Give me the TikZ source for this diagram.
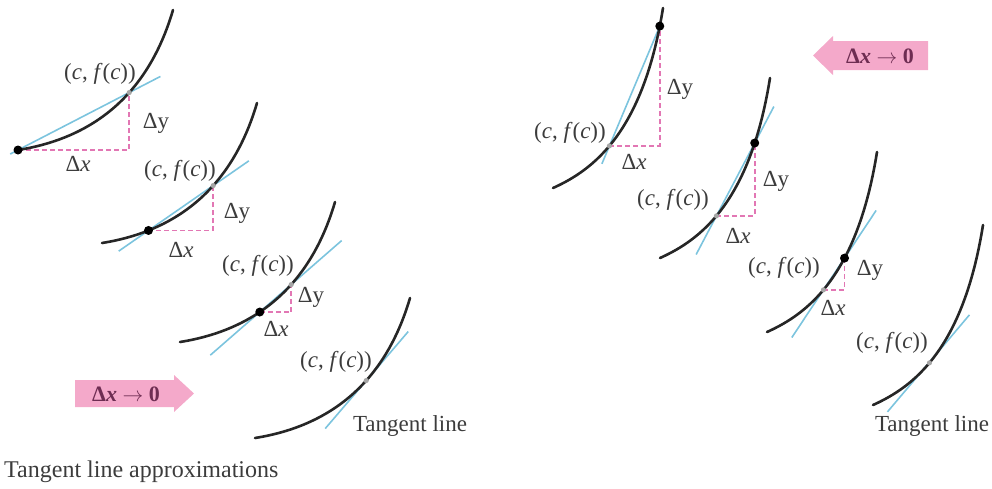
\documentclass[tikz,border=0pt]{standalone}
\usepackage{fontspec}
\setmainfont{Liberation Serif}
\usetikzlibrary{calc,backgrounds}
\definecolor{curvecol}{HTML}{262626}
\definecolor{bluecol}{HTML}{7CC4DE}
\definecolor{pinkcol}{HTML}{E277B4}
\definecolor{arrowfill}{HTML}{F4A9CA}
\definecolor{arrowtext}{HTML}{6E2D52}
\definecolor{textcol}{HTML}{3C3C3C}
\tikzset{
  curve/.style={draw=curvecol, line width=2.6pt, line cap=round},
  secant/.style={draw=bluecol, line width=1.6pt},
  pinkdash/.style={draw=pinkcol, line width=1.8pt, dash pattern=on 5pt off 3pt},
  blackdot/.style={fill=black},
  cdot/.style={fill=gray!70},
  lab/.style={text=textcol, font=\fontsize{23}{26}\selectfont, inner sep=0pt},
  arrowtxt/.style={text=arrowtext, font=\fontsize{22}{26}\selectfont\bfseries, inner sep=0pt},
  arrowshape/.style={fill=arrowfill},
}
\newcommand{\cfc}{(\textit{c}, \textit{f}(\textit{c}))}
\begin{document}
\begin{tikzpicture}[x=1pt,y=-1pt]
\useasboundingbox (0,0) rectangle (992,488);

% ---------- left column ----------
\begin{scope}[shift={(18,150)}]
\draw[curve] (0,0) .. controls (75,-12) and (130,-55) .. (155,-140)
  coordinate[pos=0] (l1d) coordinate[pos=0.6] (l1c);
\end{scope}
\begin{scope}[shift={(102,243)}]
\draw[curve] (0,0) .. controls (75,-12) and (130,-55) .. (155,-140)
  coordinate[pos=0.22] (l2d) coordinate[pos=0.6] (l2c);
\end{scope}
\begin{scope}[shift={(180,342)}]
\draw[curve] (0,0) .. controls (75,-12) and (130,-55) .. (155,-140)
  coordinate[pos=0.4] (l3d) coordinate[pos=0.6] (l3c);
\end{scope}
\begin{scope}[shift={(255,438)}]
\draw[curve] (0,0) .. controls (75,-12) and (130,-55) .. (155,-140)
  coordinate[pos=0.6] (l4c);
\end{scope}

% ---------- right column ----------
\begin{scope}[shift={(553,188)}]
\draw[curve] (0,0) .. controls (40,-18) and (90,-55) .. (110,-180)
  coordinate[pos=0.95] (r1d) coordinate[pos=0.45] (r1c);
\end{scope}
\begin{scope}[shift={(660,258)}]
\draw[curve] (0,0) .. controls (40,-18) and (90,-55) .. (110,-180)
  coordinate[pos=0.8] (r2d) coordinate[pos=0.45] (r2c);
\end{scope}
\begin{scope}[shift={(767,332)}]
\draw[curve] (0,0) .. controls (40,-18) and (90,-55) .. (110,-180)
  coordinate[pos=0.63] (r3d) coordinate[pos=0.45] (r3c);
\end{scope}
\begin{scope}[shift={(873,405)}]
\draw[curve] (0,0) .. controls (40,-18) and (90,-55) .. (110,-180)
  coordinate[pos=0.45] (r4c);
\end{scope}

% ---------- secants, tangents, increments (behind curves) ----------
\begin{scope}[on background layer]
\draw[pinkdash] (l1d) -| (l1c);
\draw[secant] ($(l1d)!-0.07!(l1c)$) -- ($(l1c)!-0.28!(l1d)$);
\draw[pinkdash] (l2d) -| (l2c);
\draw[secant] ($(l2d)!-0.46!(l2c)$) -- ($(l2c)!-0.55!(l2d)$);
\draw[pinkdash] (l3d) -| (l3c);
\draw[secant] ($(l3d)!-1.57!(l3c)$) -- ($(l3c)!-1.6!(l3d)$);
\draw[secant] ($(l4c)+(-41,48)$) -- ($(l4c)+(42,-49)$);

\draw[pinkdash] (r1c) -| (r1d);
\draw[secant] ($(r1c)!-0.15!(r1d)$) -- ($(r1d)!-0.03!(r1c)$);
\draw[pinkdash] (r2c) -| (r2d);
\draw[secant] ($(r2c)!-0.53!(r2d)$) -- ($(r2d)!-0.5!(r2c)$);
\draw[pinkdash] (r3c) -| (r3d);
\draw[secant] ($(r3c)!-1.5!(r3d)$) -- ($(r3d)!-1.5!(r3c)$);
\draw[secant] ($(r4c)+(-42,49)$) -- ($(r4c)+(40,-48)$);
\end{scope}

% ---------- points ----------
\foreach \p in {l1c,l2c,l3c,l4c,r1c,r2c,r3c,r4c}
  \fill[cdot] (\p) circle (2.6);
\foreach \p in {l1d,l2d,l3d,r1d,r2d,r3d}
  \fill[blackdot] (\p) circle (4.5);

% ---------- labels, left ----------
\node[lab] (l1lab) at (100,74) {\cfc};
\node[lab] (l1dy) at (156,123) {Δy};
\node[lab] (l1dx) at (78,164) {Δ\textit{x}};
\node[lab] (l2lab) at (180,171) {\cfc};
\node[lab] (l2dy) at (237,213) {Δy};
\node[lab] (l2dx) at (181,250) {Δ\textit{x}};
\node[lab] (l3lab) at (258,266) {\cfc};
\node[lab] (l3dy) at (311,297) {Δy};
\node[lab] (l3dx) at (276,329) {Δ\textit{x}};
\node[lab] (l4lab) at (336,362) {\cfc};
\node[lab] (l4tan) at (410,426) {Tangent line};

% ---------- labels, right ----------
\node[lab] (r1lab) at (570,133) {\cfc};
\node[lab] (r1dy) at (680,89) {Δy};
\node[lab] (r1dx) at (634,162) {Δ\textit{x}};
\node[lab] (r2lab) at (673,200) {\cfc};
\node[lab] (r2dy) at (776,181) {Δy};
\node[lab] (r2dx) at (738,236) {Δ\textit{x}};
\node[lab] (r3lab) at (784,268) {\cfc};
\node[lab] (r3dy) at (870,270) {Δy};
\node[lab] (r3dx) at (833,308) {Δ\textit{x}};
\node[lab] (r4lab) at (892,343) {\cfc};
\node[lab] (r4tan) at (932,426) {Tangent line};

% ---------- direction arrows ----------
\fill[arrowshape] (75,380) -- (174,380) -- (174,375) -- (194,393.5) -- (174,412) -- (174,407) -- (75,407) -- cycle;
\node[arrowtxt] (arrl) at (126,394) {Δ\textit{x} $\rightarrow$ 0};
\fill[arrowshape] (928,41) -- (833,41) -- (833,36) -- (813,55.5) -- (833,75) -- (833,70) -- (928,70) -- cycle;
\node[arrowtxt] (arrr) at (880,56) {Δ\textit{x} $\rightarrow$ 0};

% ---------- caption ----------
\node[lab, anchor=west, font=\fontsize{24}{28}\selectfont] (caption) at (4,472) {Tangent line approximations};
\end{tikzpicture}
\end{document}
